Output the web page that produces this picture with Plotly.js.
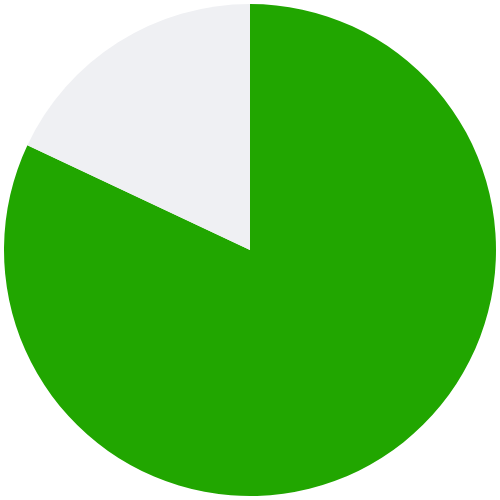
<!DOCTYPE html>
<html>
<head>
<meta charset="utf-8">
<script src="https://cdn.plot.ly/plotly-3.0.1.min.js"></script>
<style>
  html, body { margin: 0; padding: 0; background: #fff; }
  #plot { width: 500px; height: 500px; }
</style>
</head>
<body>
<div id="plot"></div>
<script>
// slice shares (green runs clockwise from 12 o'clock)
const labels = ["Done", "Remaining"]
const values = [82, 18]
const colors = ["#21a600", "#eff0f3"]

const data = [{
  type: "pie",
  labels: labels,
  values: values,
  sort: false,
  direction: "clockwise",
  rotation: 0,
  marker: { colors: colors, line: { width: 0 } },
  textinfo: "none",
  hoverinfo: "label+percent"
}]

const layout = {
  width: 500,
  height: 500,
  margin: { l: 4, r: 4, t: 4, b: 4, pad: 0 },
  showlegend: false,
  paper_bgcolor: "#ffffff"
}

Plotly.newPlot("plot", data, layout, { displayModeBar: false, staticPlot: true })
</script>
</body>
</html>
